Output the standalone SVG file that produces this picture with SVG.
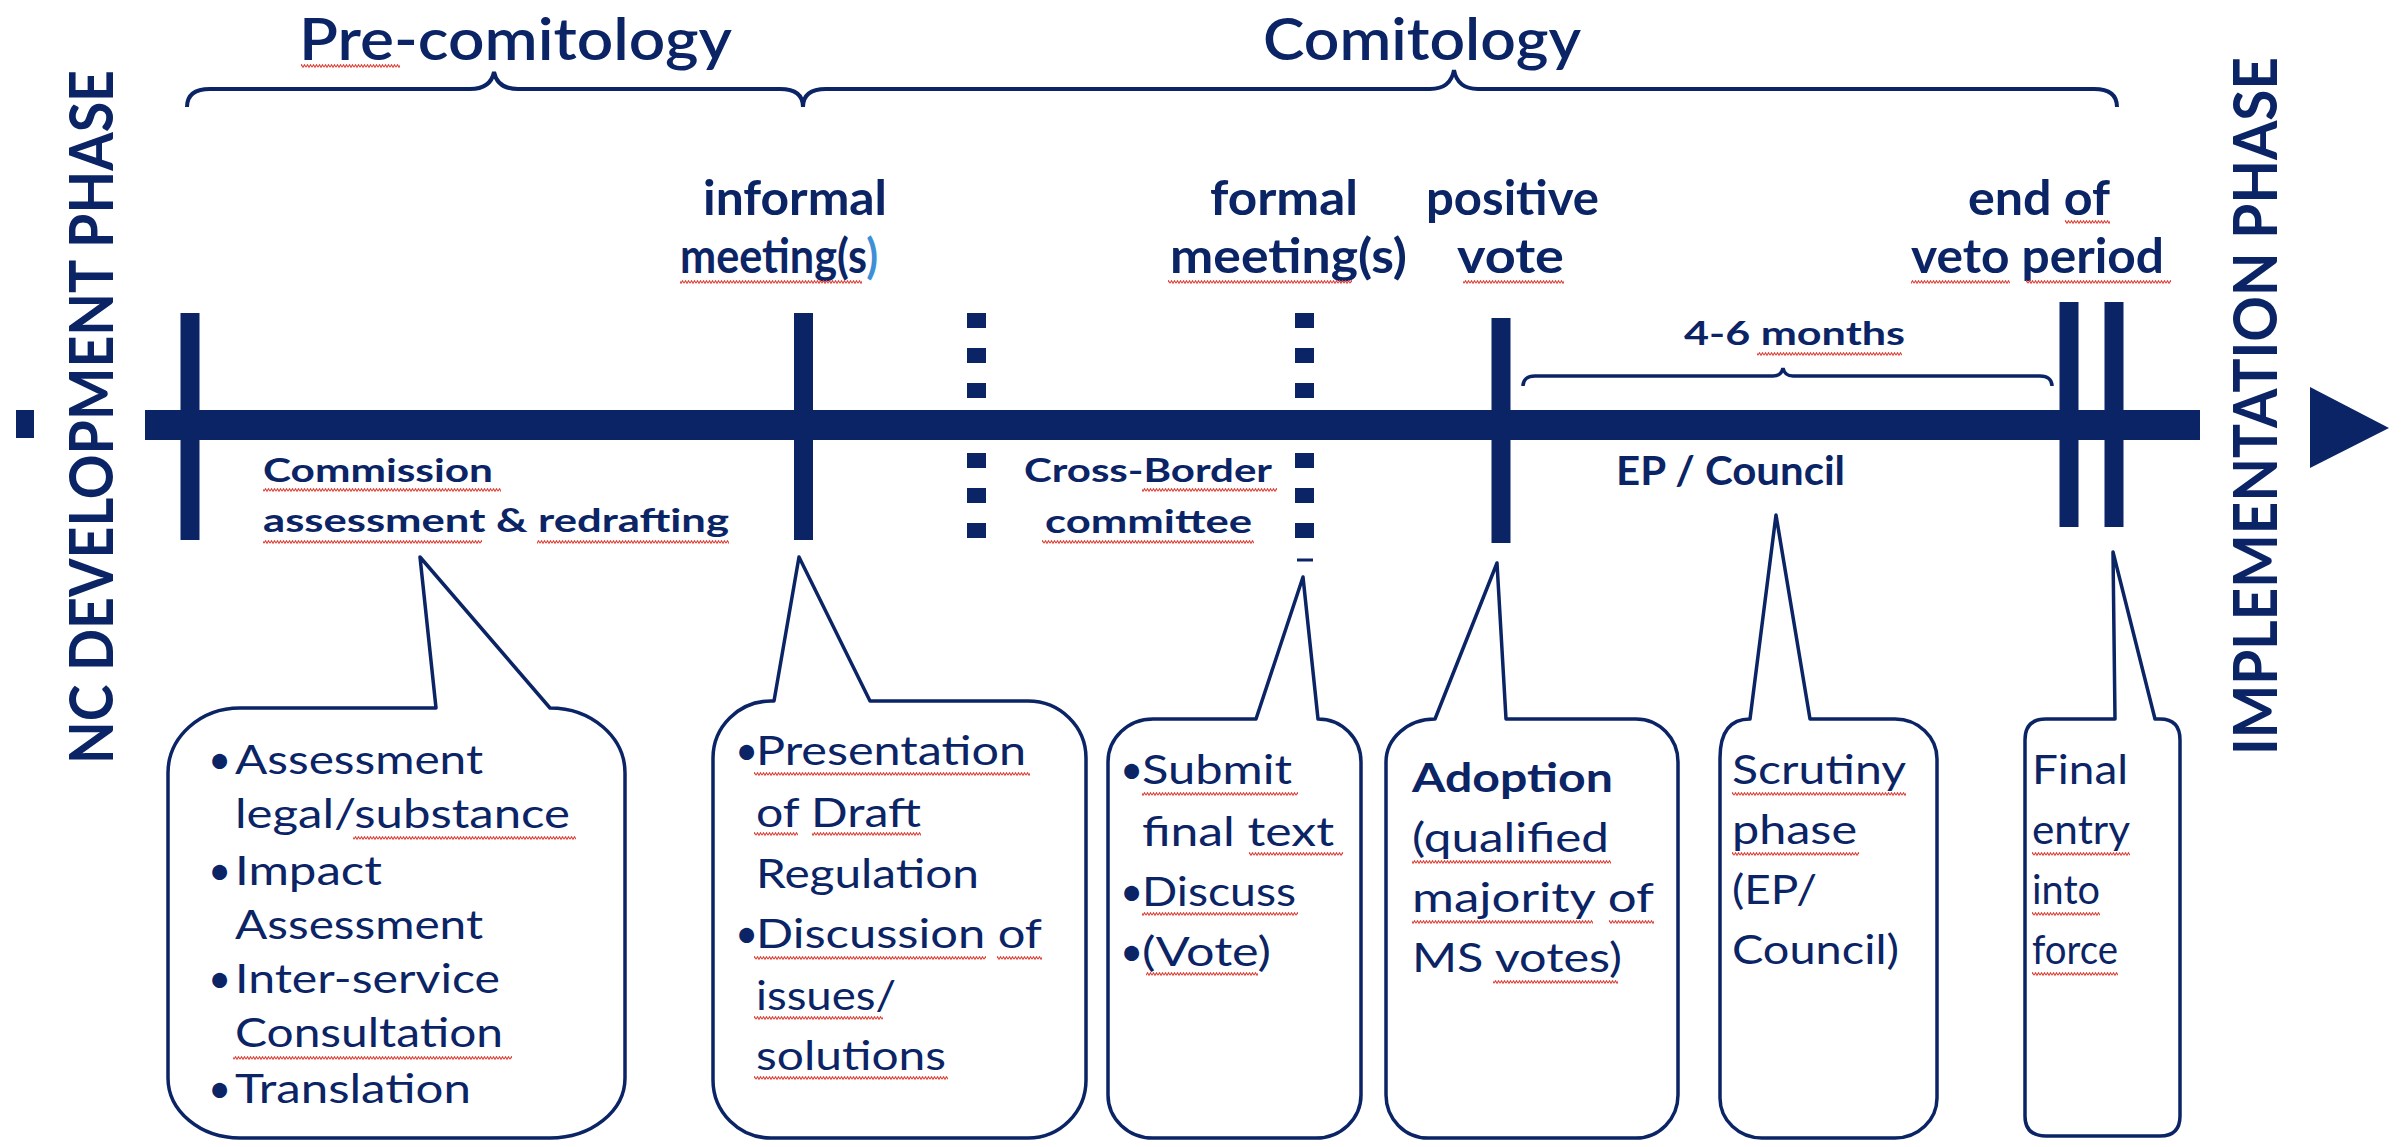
<svg xmlns="http://www.w3.org/2000/svg" width="2407" height="1147" viewBox="0 0 2407 1147">
<defs>
<pattern id="sq" width="6" height="4" patternUnits="userSpaceOnUse">
<path d="M0,3.3 L1.5,0.7 L3,3.3 L4.5,0.7 L6,3.3" fill="none" stroke="#e0463c" stroke-width="1.1"/>
</pattern>
<style>
text{font-family:"Lato","Liberation Sans",sans-serif;fill:#0b2466;}
.ti{font-size:58px;font-weight:600;}
.lb{font-size:47px;font-weight:700;}
.sm{font-size:32px;font-weight:700;}
.ep{font-size:41px;font-weight:700;}
.vt{font-size:62px;font-weight:700;text-anchor:middle;}
.cb{font-size:40px;font-weight:400;}
.cbb{font-size:40px;font-weight:700;}
.bul{font-size:40px;}
.call{fill:#fff;stroke:#0b2466;stroke-width:3.5;stroke-linejoin:round;}
.brace{fill:none;stroke:#0b2466;stroke-width:4;}
.tick{stroke:#0b2466;stroke-width:19;}
.dash{stroke:#0b2466;stroke-width:19;stroke-dasharray:15 20;}
.nv{fill:#0b2466;}
.sq{fill:url(#sq);}
</style>
</defs>
<rect width="2407" height="1147" fill="#fff"/>

<g id="phase-labels">
<text class="vt" transform="translate(113,417) rotate(-90)" textLength="694" lengthAdjust="spacingAndGlyphs">NC DEVELOPMENT PHASE</text>
<text class="vt" transform="translate(2277,406) rotate(-90)" textLength="698" lengthAdjust="spacingAndGlyphs">IMPLEMENTATION PHASE</text>
</g>

<g id="headings">
<text class="ti" x="299" y="60" textLength="433" lengthAdjust="spacingAndGlyphs">Pre-comitology</text>
<text class="ti" x="1263" y="60" textLength="318" lengthAdjust="spacingAndGlyphs">Comitology</text>
<path class="brace" d="M187,107 C187,95 195,89 210,89 L470,89 C485,89 492,82 494,72 C496,82 503,89 518,89 L780,89 C795,89 803,95 803,107"/>
<path class="brace" d="M803,107 C803,95 811,89 826,89 L1430,89 C1445,89 1452,81 1454,70 C1456,81 1463,89 1478,89 L2094,89 C2109,89 2117,95 2117,107"/>
</g>

<g id="timeline">
<rect class="nv" x="16" y="410" width="18" height="28"/>
<rect class="nv" x="145" y="410" width="2055" height="30"/>
<polygon class="nv" points="2310,387 2310,468 2389,428"/>
<line class="tick" x1="190" y1="313" x2="190" y2="540"/>
<line class="tick" x1="803.5" y1="313" x2="803.5" y2="540"/>
<line class="dash" x1="976.5" y1="313" x2="976.5" y2="540"/>
<line class="dash" x1="1304.5" y1="313" x2="1304.5" y2="540"/>
<line x1="1297" y1="560" x2="1313" y2="560" stroke="#0b2466" stroke-width="3"/>
<line class="tick" x1="1501" y1="318" x2="1501" y2="543"/>
<line class="tick" x1="2069" y1="302" x2="2069" y2="527"/>
<line class="tick" x1="2114" y1="302" x2="2114" y2="527"/>
</g>

<g id="milestones">
<text class="lb" x="703" y="215" textLength="184" lengthAdjust="spacingAndGlyphs">informal</text>
<text class="lb" x="680" y="273" textLength="198" lengthAdjust="spacingAndGlyphs">meeting(s<tspan fill="#3d8fd6">)</tspan></text>
<text class="lb" x="1210" y="215" textLength="148" lengthAdjust="spacingAndGlyphs">formal</text>
<text class="lb" x="1170" y="273" textLength="237" lengthAdjust="spacingAndGlyphs">meeting(s)</text>
<text class="lb" x="1426" y="215" textLength="173" lengthAdjust="spacingAndGlyphs">positive</text>
<text class="lb" x="1457" y="273" textLength="107" lengthAdjust="spacingAndGlyphs">vote</text>
<text class="lb" x="1968" y="215" textLength="142" lengthAdjust="spacingAndGlyphs">end of</text>
<text class="lb" x="1911" y="273" textLength="253" lengthAdjust="spacingAndGlyphs">veto period</text>
</g>

<g id="period-labels">
<text class="sm" x="1684" y="345" textLength="221" lengthAdjust="spacingAndGlyphs">4-6 months</text>
<path class="brace" style="stroke-width:3.5" d="M1523,386 C1523,380 1527,376 1535,376 L1773,376 C1779,376 1782,373 1783,368 C1784,373 1787,376 1793,376 L2040,376 C2048,376 2052,380 2052,386"/>
<text class="ep" x="1616" y="485" textLength="229" lengthAdjust="spacingAndGlyphs">EP / Council</text>
<text class="sm" x="263" y="482" textLength="230" lengthAdjust="spacingAndGlyphs">Commission</text>
<text class="sm" x="263" y="532" textLength="466" lengthAdjust="spacingAndGlyphs">assessment &amp; redrafting</text>
<text class="sm" x="1024" y="482" textLength="248" lengthAdjust="spacingAndGlyphs">Cross-Border</text>
<text class="sm" x="1045" y="533" textLength="207" lengthAdjust="spacingAndGlyphs">committee</text>
</g>

<g id="callout-commission">
<path class="call" d="M240,708 L436,708 L420,557 L550,708 A75 65 0 0 1 625,773 L625,1078 A75 60 0 0 1 550,1138 L240,1138 A72 60 0 0 1 168,1078 L168,773 A72 65 0 0 1 240,708 Z"/>
<text class="bul" x="208" y="774">•</text>
<text class="cb" x="235" y="774" textLength="248" lengthAdjust="spacingAndGlyphs">Assessment</text>
<text class="cb" x="235" y="828" textLength="335" lengthAdjust="spacingAndGlyphs">legal/substance</text>
<text class="bul" x="208" y="885">•</text>
<text class="cb" x="235" y="885" textLength="147" lengthAdjust="spacingAndGlyphs">Impact</text>
<text class="cb" x="235" y="939" textLength="248" lengthAdjust="spacingAndGlyphs">Assessment</text>
<text class="bul" x="208" y="993">•</text>
<text class="cb" x="235" y="993" textLength="265" lengthAdjust="spacingAndGlyphs">Inter-service</text>
<text class="cb" x="235" y="1047" textLength="268" lengthAdjust="spacingAndGlyphs">Consultation</text>
<text class="bul" x="208" y="1103">•</text>
<text class="cb" x="235" y="1103" textLength="236" lengthAdjust="spacingAndGlyphs">Translation</text>
</g>

<g id="callout-informal">
<path class="call" d="M713,758 A58 57 0 0 1 771,701 L774,701 L799,557 L870,701 L1028,701 A58 57 0 0 1 1086,758 L1086,1080 A58 58 0 0 1 1028,1138 L771,1138 A58 58 0 0 1 713,1080 Z"/>
<text class="bul" x="735" y="765">•</text>
<text class="cb" x="756" y="765" textLength="270" lengthAdjust="spacingAndGlyphs">Presentation</text>
<text class="cb" x="756" y="827" textLength="165" lengthAdjust="spacingAndGlyphs">of Draft</text>
<text class="cb" x="756" y="888" textLength="223" lengthAdjust="spacingAndGlyphs">Regulation</text>
<text class="bul" x="735" y="948">•</text>
<text class="cb" x="756" y="948" textLength="286" lengthAdjust="spacingAndGlyphs">Discussion  of</text>
<text class="cb" x="756" y="1010" textLength="140" lengthAdjust="spacingAndGlyphs">issues/</text>
<text class="cb" x="756" y="1070" textLength="190" lengthAdjust="spacingAndGlyphs">solutions</text>
</g>

<g id="callout-formal">
<path class="call" d="M1108,762 A45 43 0 0 1 1153,719 L1256,719 L1303,577 L1318,719 A43 43 0 0 1 1361,762 L1361,1095 A45 43 0 0 1 1316,1138 L1153,1138 A45 43 0 0 1 1108,1095 Z"/>
<text class="bul" x="1120" y="784">•</text>
<text class="cb" x="1142" y="784" textLength="150" lengthAdjust="spacingAndGlyphs">Submit</text>
<text class="cb" x="1142" y="846" textLength="192" lengthAdjust="spacingAndGlyphs">final text</text>
<text class="bul" x="1120" y="906">•</text>
<text class="cb" x="1142" y="906" textLength="154" lengthAdjust="spacingAndGlyphs">Discuss</text>
<text class="bul" x="1120" y="966">•</text>
<text class="cb" x="1142" y="966" textLength="129" lengthAdjust="spacingAndGlyphs">(Vote)</text>
</g>

<g id="callout-vote">
<path class="call" d="M1386,762 A49 43 0 0 1 1435,719 L1497,563 L1506,719 L1636,719 A42 43 0 0 1 1678,762 L1678,1095 A42 43 0 0 1 1636,1138 L1428,1138 A42 43 0 0 1 1386,1095 Z"/>
<text class="cbb" x="1412" y="792" textLength="201" lengthAdjust="spacingAndGlyphs">Adoption</text>
<text class="cb" x="1412" y="852" textLength="197" lengthAdjust="spacingAndGlyphs">(qualified</text>
<text class="cb" x="1412" y="912" textLength="242" lengthAdjust="spacingAndGlyphs">majority of</text>
<text class="cb" x="1412" y="972" textLength="210" lengthAdjust="spacingAndGlyphs">MS votes)</text>
</g>

<g id="callout-scrutiny">
<path class="call" d="M1720,758 Q1720,719 1750,719 L1776,515 L1810,719 L1895,719 A42 40 0 0 1 1937,759 L1937,1098 A42 40 0 0 1 1895,1138 L1762,1138 A42 40 0 0 1 1720,1098 Z"/>
<text class="cb" x="1732" y="784" textLength="174" lengthAdjust="spacingAndGlyphs">Scrutiny</text>
<text class="cb" x="1732" y="844" textLength="125" lengthAdjust="spacingAndGlyphs">phase</text>
<text class="cb" x="1732" y="904" textLength="85" lengthAdjust="spacingAndGlyphs">(EP/</text>
<text class="cb" x="1732" y="964" textLength="167" lengthAdjust="spacingAndGlyphs">Council)</text>
</g>

<g id="callout-entry">
<path class="call" d="M2025,740 Q2025,719 2046,719 L2115,719 L2113,552 L2155,719 L2160,719 Q2180,719 2180,740 L2180,1116 Q2180,1136 2160,1136 L2046,1136 Q2025,1136 2025,1116 Z"/>
<text class="cb" x="2032" y="784" textLength="96" lengthAdjust="spacingAndGlyphs">Final</text>
<text class="cb" x="2032" y="844" textLength="98" lengthAdjust="spacingAndGlyphs">entry</text>
<text class="cb" x="2032" y="904" textLength="68" lengthAdjust="spacingAndGlyphs">into</text>
<text class="cb" x="2032" y="964" textLength="86" lengthAdjust="spacingAndGlyphs">force</text>
</g>

<g id="spellcheck-marks">
<rect class="sq" x="301" y="64" width="99" height="4"/>
<rect class="sq" x="680" y="280" width="182" height="4"/>
<rect class="sq" x="1168" y="280" width="184" height="4"/>
<rect class="sq" x="1463" y="280" width="101" height="4"/>
<rect class="sq" x="2065" y="220" width="45" height="4"/>
<rect class="sq" x="1911" y="280" width="99" height="4"/>
<rect class="sq" x="2026" y="280" width="145" height="4"/>
<rect class="sq" x="1757" y="352" width="145" height="4"/>
<rect class="sq" x="263" y="488" width="238" height="4"/>
<rect class="sq" x="263" y="540" width="219" height="4"/>
<rect class="sq" x="537" y="540" width="192" height="4"/>
<rect class="sq" x="1142" y="488" width="135" height="4"/>
<rect class="sq" x="1042" y="540" width="212" height="4"/>
<rect class="sq" x="353" y="836" width="223" height="4"/>
<rect class="sq" x="233" y="1056" width="279" height="4"/>
<rect class="sq" x="754" y="772" width="276" height="4"/>
<rect class="sq" x="754" y="832" width="44" height="4"/>
<rect class="sq" x="812" y="832" width="109" height="4"/>
<rect class="sq" x="754" y="956" width="232" height="4"/>
<rect class="sq" x="997" y="956" width="45" height="4"/>
<rect class="sq" x="754" y="1016" width="129" height="4"/>
<rect class="sq" x="754" y="1076" width="194" height="4"/>
<rect class="sq" x="1142" y="792" width="156" height="4"/>
<rect class="sq" x="1249" y="852" width="94" height="4"/>
<rect class="sq" x="1142" y="912" width="156" height="4"/>
<rect class="sq" x="1146" y="972" width="112" height="4"/>
<rect class="sq" x="1412" y="860" width="199" height="4"/>
<rect class="sq" x="1412" y="920" width="181" height="4"/>
<rect class="sq" x="1609" y="920" width="45" height="4"/>
<rect class="sq" x="1493" y="980" width="125" height="4"/>
<rect class="sq" x="1732" y="792" width="174" height="4"/>
<rect class="sq" x="1732" y="852" width="127" height="4"/>
<rect class="sq" x="2032" y="852" width="98" height="4"/>
<rect class="sq" x="2032" y="912" width="68" height="4"/>
<rect class="sq" x="2032" y="972" width="86" height="4"/>
</g>
</svg>
